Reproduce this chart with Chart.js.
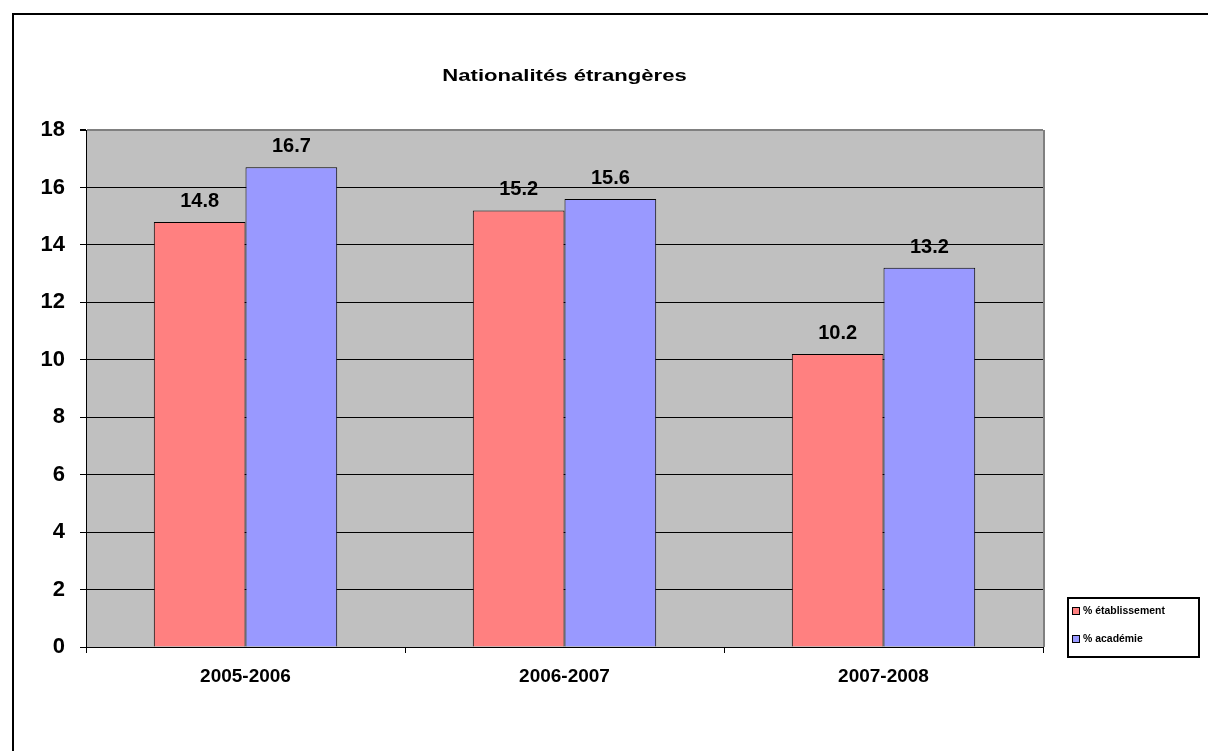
<!DOCTYPE html>
<html>
<head>
<meta charset="utf-8">
<script src="https://cdn.jsdelivr.net/npm/chart.js@4/dist/chart.umd.min.js"></script>
<style>
  html, body { margin: 0; padding: 0; background: #fff; }
  #wrap { position: relative; width: 1208px; height: 751px; }
</style>
</head>
<body>
<div id="wrap"><canvas id="graf" width="1208" height="751"></canvas></div>
<script>
const titre = 'Nationalités étrangères';
const annees = ['2005-2006', '2006-2007', '2007-2008'];
const pctEtablissement = [14.8, 15.2, 10.2];
const pctAcademie = [16.7, 15.6, 13.2];
const nomsSeries = ['% établissement', '% académie'];
const couleurs = ['#FF8080', '#9999FF'];

const police = '"Liberation Sans", Arial, sans-serif';

// fond, cadre, titre, etiquettes et legende dessines a la main
const decor = {
  id: 'decor',
  beforeDraw(chart) {
    const ctx = chart.ctx;
    const a = chart.chartArea;
    ctx.save();
    ctx.fillStyle = '#C0C0C0';
    ctx.fillRect(a.left, a.top, a.right - a.left, a.bottom - a.top);
    ctx.restore();
  },
  afterDatasetsDraw(chart) {
    const ctx = chart.ctx;
    const a = chart.chartArea;
    ctx.save();
    // bord droit gris de la zone de tracé
    ctx.strokeStyle = '#808080';
    ctx.lineWidth = 2;
    ctx.beginPath();
    ctx.moveTo(a.right + 1, a.top);
    ctx.lineTo(a.right + 1, a.bottom);
    ctx.stroke();

    // valeurs au-dessus des barres
    ctx.fillStyle = '#000';
    ctx.font = '600 20px ' + police;
    ctx.textAlign = 'center';
    ctx.textBaseline = 'alphabetic';
    chart.data.datasets.forEach((ds, i) => {
      chart.getDatasetMeta(i).data.forEach((bar, j) => {
        ctx.fillText(ds.data[j].toFixed(1), bar.x, bar.y - 15);
      });
    });

    // titre (texte etire horizontalement comme dans l'original)
    ctx.save();
    ctx.font = 'bold 17px ' + police;
    ctx.textBaseline = 'alphabetic';
    ctx.translate((a.left + a.right) / 2, 81);
    ctx.scale(1.3, 1);
    ctx.fillText(titre, 0, 0);
    ctx.restore();

    // cadre exterieur
    ctx.strokeStyle = '#000';
    ctx.lineWidth = 2;
    ctx.beginPath();
    ctx.moveTo(13, 760);
    ctx.lineTo(13, 14);
    ctx.lineTo(1220, 14);
    ctx.stroke();

    // legende
    ctx.lineWidth = 2;
    ctx.strokeRect(1068, 598, 131, 59);
    ctx.textAlign = 'left';
    ctx.textBaseline = 'middle';
    chart.data.datasets.forEach((ds, i) => {
      const y = 611 + i * 28;
      ctx.fillStyle = ds.backgroundColor;
      ctx.fillRect(1073, y - 3, 6, 6);
      ctx.lineWidth = 1;
      ctx.strokeStyle = '#000';
      ctx.strokeRect(1072.5, y - 3.5, 7, 7);
      ctx.fillStyle = '#000';
      ctx.save();
      ctx.font = 'bold 11px ' + police;
      ctx.translate(1083, y);
      ctx.scale(0.95, 1);
      ctx.fillText(ds.label, 0, 0);
      ctx.restore();
    });
    ctx.restore();
  }
};

new Chart(document.getElementById('graf'), {
  type: 'bar',
  data: {
    labels: annees,
    datasets: [
      { label: nomsSeries[0], data: pctEtablissement, backgroundColor: couleurs[0], borderColor: '#000', borderWidth: 1 },
      { label: nomsSeries[1], data: pctAcademie, backgroundColor: couleurs[1], borderColor: '#000', borderWidth: 1 }
    ]
  },
  options: {
    responsive: false,
    animation: false,
    layout: { padding: { left: 12, top: 130, right: 165, bottom: 54 } },
    datasets: { bar: { categoryPercentage: 0.575, barPercentage: 1 } },
    plugins: { legend: { display: false }, tooltip: { enabled: false }, title: { display: false } },
    scales: {
      x: {
        afterFit: s => { s.height = 50; },
        grid: { offset: true, drawOnChartArea: false, color: '#000', tickLength: 6 },
        border: { color: '#000', width: 1 },
        ticks: { color: '#000', font: { family: police, size: 19, weight: 'bold' }, padding: 12 }
      },
      y: {
        min: 0,
        max: 18,
        afterFit: s => { s.width = 74; },
        grid: {
          color: c => (c.tick && c.tick.value === 18 ? '#808080' : '#000'),
          lineWidth: c => (c.tick && c.tick.value === 18 ? 2 : 1),
          tickColor: '#000',
          tickLength: 6
        },
        border: { color: '#000', width: 1 },
        ticks: {
          stepSize: 2,
          color: '#000',
          padding: 15,
          font: { family: police, size: 22, weight: 'bold' }
        }
      }
    }
  },
  plugins: [decor]
});
</script>
</body>
</html>
